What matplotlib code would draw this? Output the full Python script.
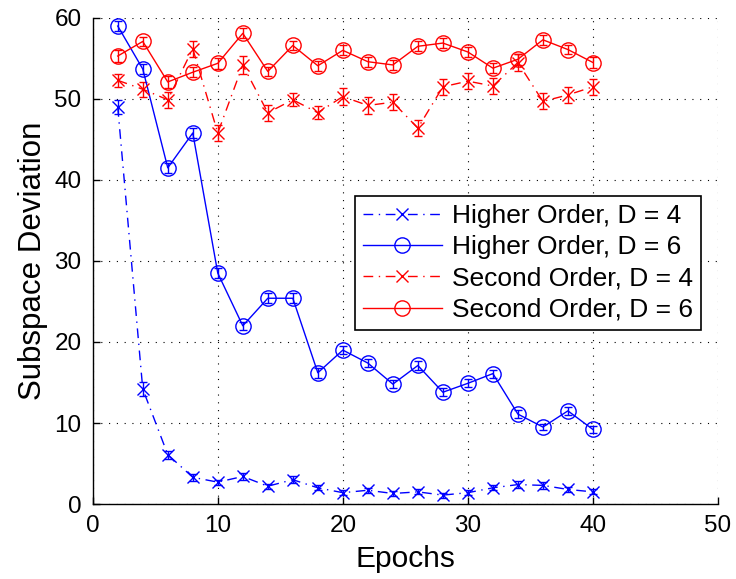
import numpy as np
import matplotlib
matplotlib.use("Agg")
import matplotlib.pyplot as plt
from matplotlib.lines import Line2D

# Data
epochs = np.arange(2, 42, 2)

higher_d4 = [49.0, 14.2, 6.1, 3.3, 2.7, 3.4, 2.2, 3.0, 2.0, 1.4,
             1.7, 1.3, 1.5, 1.1, 1.4, 2.0, 2.4, 2.3, 1.8, 1.5]
higher_d4_err = [0.9, 0.9, 0.5, 0.4, 0.3, 0.4, 0.3, 0.4, 0.3, 0.3,
                 0.3, 0.3, 0.3, 0.3, 0.3, 0.3, 0.4, 0.4, 0.3, 0.3]

higher_d6 = [59.0, 53.7, 41.5, 45.8, 28.5, 22.0, 25.4, 25.4, 16.2, 19.0,
             17.4, 14.8, 17.1, 13.8, 14.9, 16.1, 11.1, 9.5, 11.5, 9.2]
higher_d6_err = [0.6, 0.6, 0.6, 0.6, 0.6, 0.5, 0.6, 0.6, 0.6, 0.5,
                 0.5, 0.5, 0.5, 0.5, 0.5, 0.5, 0.5, 0.4, 0.5, 0.4]

second_d4 = [52.3, 51.2, 49.9, 56.2, 45.8, 54.2, 48.3, 49.9, 48.3, 50.3,
             49.2, 49.6, 46.4, 51.5, 52.2, 51.6, 54.5, 49.7, 50.5, 51.5]
second_d4_err = [0.8, 0.9, 1.0, 1.0, 1.0, 1.1, 1.0, 0.8, 0.8, 1.0,
                 1.0, 1.0, 1.0, 1.0, 1.0, 1.0, 1.0, 1.0, 1.0, 1.0]

second_d6 = [55.3, 57.1, 52.1, 53.3, 54.4, 58.1, 53.4, 56.6, 54.1, 56.0,
             54.6, 54.2, 56.5, 56.9, 55.8, 53.8, 54.9, 57.3, 56.1, 54.5]
second_d6_err = [0.7, 0.6, 0.7, 0.6, 0.7, 0.6, 0.6, 0.6, 0.6, 0.6,
                 0.6, 0.6, 0.6, 0.6, 0.6, 0.6, 0.7, 0.6, 0.6, 0.7]

labels = ["Higher Order, D = 4", "Higher Order, D = 6",
          "Second Order, D = 4", "Second Order, D = 6"]

plt.rcParams['font.family'] = ['Liberation Sans', 'DejaVu Sans']

fig = plt.figure(figsize=(7.36, 5.79), dpi=100)
ax = fig.add_axes([0.126, 0.1295, 0.8495, 0.8395])

dashdot = (0, (7, 4, 1, 4))
series = [
    (higher_d4, higher_d4_err, 'blue', 'x', dashdot),
    (higher_d6, higher_d6_err, 'blue', 'o', '-'),
    (second_d4, second_d4_err, 'red', 'x', dashdot),
    (second_d6, second_d6_err, 'red', 'o', '-'),
]

handles = []
for (vals, errs, col, mk, ls), lab in zip(series, labels):
    ms = 11 if mk == 'o' else 8.5
    ax.errorbar(epochs, vals, yerr=errs, color=col, marker=mk, ms=ms,
                mfc='none', mec=col, mew=1.0, lw=1.0, ls=ls,
                capsize=3, elinewidth=1.0, capthick=1.0)
    handles.append(Line2D([], [], color=col, marker=mk, ms=ms, mfc='none',
                          mec=col, mew=1.0, lw=1.0, ls=ls, label=lab))

ax.set_xlim(0, 50)
ax.set_ylim(0, 60)
ax.set_xticks(np.arange(0, 51, 10))
ax.set_yticks(np.arange(0, 61, 10))
ax.tick_params(direction='in', length=5, labelsize=17.5, width=1.0, pad=8)
ax.grid(True, color='black', linestyle=(0, (1, 6)), linewidth=0.8)

ax.spines['top'].set_visible(False)
ax.spines['right'].set_visible(False)
ax.spines['left'].set_linewidth(1.0)
ax.spines['bottom'].set_linewidth(1.0)

ax.set_xlabel("Epochs", fontsize=21.5, labelpad=6)
ax.set_ylabel("Subspace Deviation", fontsize=22.5, labelpad=5)

leg = ax.legend(handles=handles, loc='upper left',
                bbox_to_anchor=(0.419, 0.634), borderaxespad=0,
                fontsize=19, frameon=True,
                fancybox=False, edgecolor='black', framealpha=1.0,
                handlelength=3.0, labelspacing=0.28, borderpad=0.3,
                handletextpad=0.4)
leg.get_frame().set_linewidth(1.2)

fig.savefig("out.png", dpi=100)
